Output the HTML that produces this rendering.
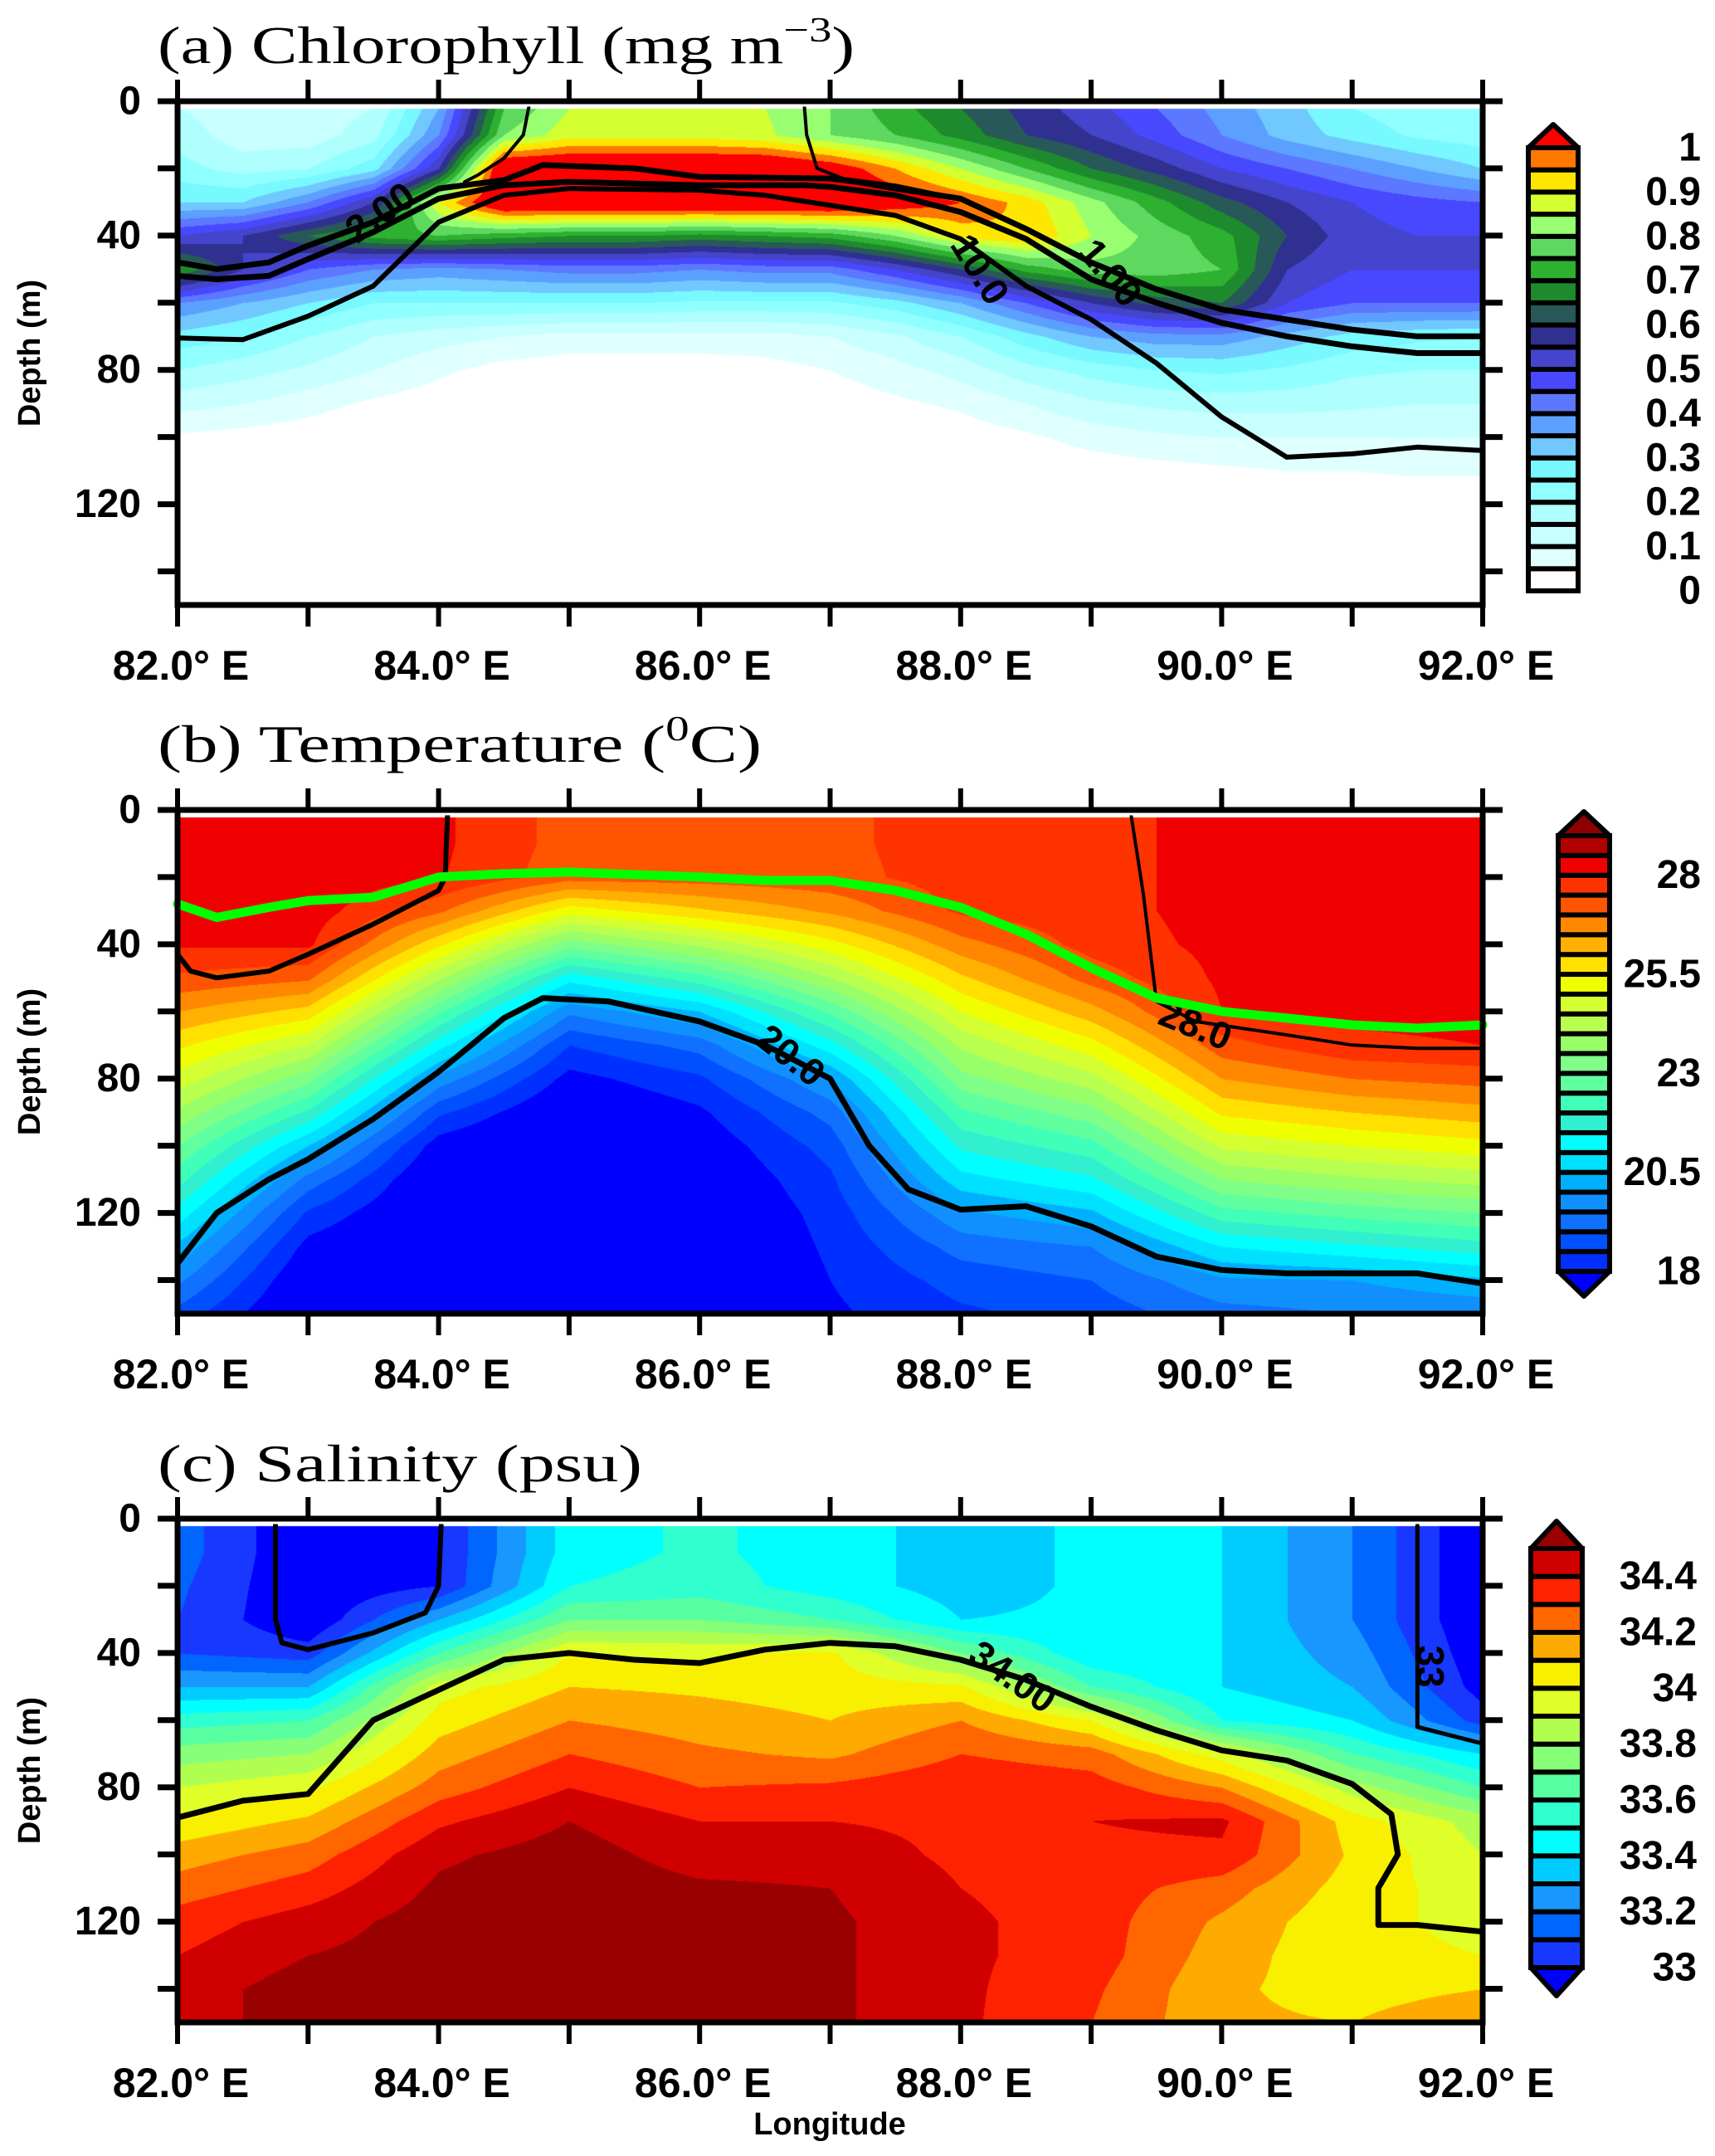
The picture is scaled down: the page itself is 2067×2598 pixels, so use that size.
<!DOCTYPE html>
<html><head><meta charset="utf-8">
<style>
html,body{margin:0;padding:0;background:#fff;}
#wrap{position:relative;width:2067px;height:2598px;overflow:hidden;background:#fff;}
canvas{position:absolute;}
svg{position:absolute;left:0;top:0;}
</style></head>
<body>
<div id="wrap">
<canvas id="cA" width="1573" height="607" style="left:214px;top:122px"></canvas>
<canvas id="cB" width="1573" height="607" style="left:214px;top:976px"></canvas>
<canvas id="cC" width="1573" height="607" style="left:214px;top:1830px"></canvas>
<svg id="ov" width="2067" height="2598" xmlns="http://www.w3.org/2000/svg">
<text x="190" y="76" textLength="840" lengthAdjust="spacingAndGlyphs" font-family="Liberation Serif, serif" font-size="64">(a) Chlorophyll (mg m<tspan dy="-26" font-size="42">−3</tspan><tspan dy="26">)</tspan></text>
<text x="190" y="918" textLength="728" lengthAdjust="spacingAndGlyphs" font-family="Liberation Serif, serif" font-size="64">(b) Temperature (<tspan dy="-26" font-size="42">0</tspan><tspan dy="26">C)</tspan></text>
<text x="190" y="1785" textLength="584" lengthAdjust="spacingAndGlyphs" font-family="Liberation Serif, serif" font-size="64">(c) Salinity (psu)</text>
<text x="1000" y="2572" text-anchor="middle" font-family="Liberation Sans, sans-serif" font-weight="bold" font-size="38">Longitude</text>
</svg>
</div>
<script>
// ---------- data ----------
const lonsA=[82,82.5,83,83.5,84,84.5,85,85.5,86,86.5,87,87.5,88,88.5,89,89.5,90,90.5,91,91.5,92];
const lonsB=[82,83,84,85,86,87,88,89,90,91,92];
const depths=[2,10,20,30,40,50,60,70,80,90,100,110,120,130,140,150];
const chlGrid=[
[.15,.12,.12,.15,.35,.75,.85,.87,.87,.85,.8,.72,.65,.58,.52,.45,.38,.32,.25,.22,.2],
[.18,.12,.12,.18,.4,.8,.88,.88,.88,.86,.8,.75,.68,.6,.55,.48,.4,.33,.28,.24,.22],
[.22,.18,.2,.28,.55,1.1,1.1,1.1,1.1,1.1,1.05,.95,.85,.75,.65,.58,.5,.45,.4,.35,.3],
[.3,.3,.4,.55,.9,1.1,1.1,1.1,1.1,1.1,1.1,1.05,1.0,.93,.82,.72,.62,.55,.5,.47,.45],
[.5,.55,.65,.72,.75,.72,.7,.7,.68,.7,.72,.8,.92,.95,.85,.78,.72,.6,.52,.5,.5],
[.7,.55,.45,.4,.38,.4,.42,.42,.4,.42,.42,.5,.6,.72,.78,.78,.75,.55,.5,.5,.5],
[.4,.35,.3,.25,.25,.25,.25,.25,.24,.24,.24,.28,.35,.45,.55,.62,.65,.5,.45,.45,.45],
[.28,.25,.2,.15,.12,.1,.08,.08,.08,.08,.1,.14,.2,.28,.35,.38,.38,.33,.28,.26,.25],
[.2,.17,.14,.1,.06,.03,.02,.02,.02,.03,.05,.08,.12,.18,.22,.25,.26,.24,.21,.2,.2],
[.12,.1,.07,.04,.02,0,0,0,0,0,.02,.04,.06,.1,.14,.16,.17,.17,.16,.15,.15],
[.04,.03,.02,0,0,0,0,0,0,0,0,0,.02,.04,.07,.09,.1,.1,.1,.1,.1],
[0,0,0,0,0,0,0,0,0,0,0,0,0,.01,.02,.03,.04,.05,.05,.06,.06],
[0,0,0,0,0,0,0,0,0,0,0,0,0,0,0,0,0,0,0,0,0],
[0,0,0,0,0,0,0,0,0,0,0,0,0,0,0,0,0,0,0,0,0],
[0,0,0,0,0,0,0,0,0,0,0,0,0,0,0,0,0,0,0,0,0],
[0,0,0,0,0,0,0,0,0,0,0,0,0,0,0,0,0,0,0,0,0]];
const tempGrid=[
[28.3,28.4,28.1,27.3,27.3,27.4,27.7,27.8,28.2,28.2,28.2],
[28.3,28.4,28.1,27.3,27.3,27.4,27.7,27.8,28.2,28.2,28.2],
[28.3,28.35,28.05,27.2,27.25,27.35,27.7,27.8,28.2,28.2,28.2],
[28.2,28.3,27.1,25.2,25.9,26.6,27.6,27.8,28.2,28.2,28.2],
[28.05,28.1,25.6,23.2,24.1,25.3,26.8,27.7,28.15,28.2,28.2],
[27.4,27.1,24.1,21.2,22.3,24.0,25.9,27.2,28.1,28.15,28.2],
[26.5,25.8,22.6,19.6,20.5,22.6,25.0,26.3,28.0,28.1,28.15],
[25.6,24.5,21.2,18.5,19.2,21.3,24.1,25.3,27.3,27.9,28.0],
[24.8,23.2,19.8,17.8,18.4,20.0,23.3,24.3,26.5,27.0,27.2],
[23.9,21.9,18.6,17.3,17.9,19.2,22.4,23.3,25.6,26.0,26.3],
[23.0,20.5,17.7,17.0,17.6,18.7,21.6,22.3,24.6,25.0,25.3],
[22.2,19.3,17.3,17.0,17.4,18.4,20.8,21.4,23.5,23.9,24.2],
[21.3,18.4,17.2,17.0,17.3,18.2,19.9,20.4,22.3,22.7,23.0],
[20.4,17.8,17.1,17.0,17.2,18.1,19.2,19.5,21.0,21.4,21.8],
[19.6,17.4,17.0,17.0,17.1,18.0,18.7,19.0,19.9,20.0,20.4],
[18.8,17.2,17.0,17.0,17.0,17.9,18.4,18.7,19.3,19.5,19.6]];
const salGrid=[
[33.15,32.9,33.0,33.45,33.52,33.45,33.35,33.42,33.4,33.2,32.9],
[33.15,32.9,33.0,33.45,33.52,33.45,33.35,33.42,33.4,33.2,32.9],
[33.12,32.9,33.0,33.5,33.55,33.45,33.35,33.42,33.4,33.2,32.9],
[33.1,32.9,33.3,33.7,33.7,33.6,33.4,33.42,33.4,33.2,32.9],
[33.1,33.05,33.6,34.0,33.98,34.02,33.7,33.42,33.4,33.25,32.92],
[33.3,33.3,33.95,34.1,34.08,34.05,34.02,33.6,33.4,33.3,32.95],
[33.55,33.6,34.05,34.2,34.15,34.1,34.2,34.0,33.5,33.4,33.05],
[33.75,33.8,34.15,34.3,34.22,34.18,34.3,34.25,33.95,33.6,33.4],
[33.9,33.98,34.25,34.4,34.3,34.32,34.38,34.35,34.2,33.85,33.6],
[34.02,34.12,34.38,34.5,34.4,34.4,34.38,34.4,34.42,34.05,33.85],
[34.15,34.25,34.48,34.55,34.45,34.45,34.38,34.38,34.38,34.08,33.9],
[34.25,34.35,34.52,34.57,34.52,34.5,34.4,34.35,34.25,34.05,33.95],
[34.35,34.45,34.55,34.58,34.55,34.52,34.42,34.35,34.18,34.02,33.98],
[34.4,34.5,34.55,34.58,34.56,34.52,34.42,34.35,34.15,34.02,34.0],
[34.45,34.55,34.55,34.58,34.56,34.52,34.42,34.32,34.12,34.05,34.1],
[34.45,34.55,34.55,34.58,34.56,34.52,34.42,34.3,34.12,34.1,34.2]];
const chlLine1=[[82,48],[82.3,50],[82.7,48],[83,43],[83.5,36],[84,26],[84.5,23.5],[84.8,19],[85.5,20],[86,22.5],[87,23],[87.2,24],[87.5,26],[88,29],[88.5,38],[89,48],[89.5,56],[90,62],[90.5,65],[91,68],[91.5,70],[92,70]];
const chlLine2=[[82,52],[82.3,53],[82.7,52],[83,47],[83.5,39],[84,29],[84.5,25],[85,24],[86,25],[86.8,25],[87,25.5],[87.5,28],[88,33],[88.5,41],[89,53],[89.5,60],[90,66],[90.5,70],[91,73],[91.5,75],[92,75]];
const chlLine10=[[82,70.5],[82.5,71],[83,64],[83.5,55],[84,36],[84.5,28],[85,26],[86,26.5],[86.5,28],[87,31],[87.5,34],[88,41],[88.5,55],[89,65],[89.5,78],[90,94],[90.5,106],[91,105],[91.5,103],[92,104]];
const chlThin1=[[84.7,0],[84.65,10],[84.5,17],[84.3,22],[84.2,24]];
const chlThin2=[[86.8,0],[86.82,10],[86.9,20],[87.1,23],[87.5,25],[88,29]];
const t20Line=[[82,135],[82.3,120],[82.7,110],[83,104],[83.5,92],[84,78],[84.5,62],[84.8,56],[85.3,57],[86,63],[86.5,70],[87,80],[87.3,100],[87.6,113],[88,119],[88.5,118],[89,124],[89.5,133],[90,137],[90.5,138],[91,138],[91.5,138],[92,141]];
const t28LineL=[[82,43],[82.1,48],[82.3,50],[82.7,48],[83,43],[83.5,34],[84,24],[84.05,20],[84.07,0]];
const t28LineR=[[89.3,0],[89.4,25],[89.5,57],[89.8,63],[90.5,67],[91,70],[91.5,71],[92,71]];
const mldLine=[[82,28],[82.3,32],[82.7,29],[83,27],[83.5,26],[84,20],[84.5,19],[85,18.5],[86,20],[86.5,21],[87,21],[87.5,24],[88,29],[88.5,37],[89,47],[89.5,56],[90,60],[90.5,62],[91,64],[91.5,65],[92,64]];
const s34Line=[[82,89],[82.5,84],[83,82],[83.5,60],[84,51],[84.5,42],[85,40],[85.5,42],[86,43],[86.5,39],[87,37],[87.5,38],[88,42],[88.5,48],[89,56],[89.5,63],[90,69],[90.5,72],[91,79],[91.3,88],[91.35,100],[91.2,110],[91.2,121],[91.5,121],[92,123]];
const s33LineL=[[82.75,2],[82.75,30],[82.8,37],[83,39],[83.5,34],[83.9,28],[84,20],[84.02,2]];
const s33LineR=[[91.5,2],[91.5,40],[91.5,62],[91.7,64],[92,67]];
const chlColors=['#ffffff','#e0ffff','#c8ffff','#b0ffff','#90ffff','#78f8ff','#70c8ff','#5ca0ff','#5c78ff','#4848ff','#4444cc','#303090','#285858','#1e8a2e','#2eb030','#5ed85e','#98ff70','#d4ff30','#ffe600','#ff7800'];
const chlLabels=['0','0.1','0.2','0.3','0.4','0.5','0.6','0.7','0.8','0.9','1'];
const tempColors=['#0030ff','#0050ff','#1070ff','#1090ff','#00b0ff','#00e0ff','#00ffff','#30f0d0','#40ffb8','#60ffa0','#80ff88','#98ff68','#b8ff50','#d4ff30','#f0ff00','#ffe000','#ffb000','#ff8800','#ff5500','#ff3300','#f00000','#b00000'];
const tempLabels=['18','20.5','23','25.5','28'];
const salColors=['#1838ff','#0066ff','#1898ff','#00ccff','#00ffff','#30ffd0','#58ffa0','#88ff78','#b0ff50','#e0ff28','#f8f000','#ffaa00','#ff6600','#ff2200','#d00000'];
const salLabels=['33','33.2','33.4','33.6','33.8','34','34.2','34.4'];
const xTickLabels=['82.0° E','84.0° E','86.0° E','88.0° E','90.0° E','92.0° E'];
const yTickLabels=['0','40','80','120'];

const X0=214,W=1573,H=607;
const TOPS=[122,976,1830];
function X(lon){return X0+(lon-82)/10*W;}
function Y(top,d){return top+d/150*H;}
const NS='http://www.w3.org/2000/svg';
const ov=document.getElementById('ov');
function mk(tag,attrs,parent){const e=document.createElementNS(NS,tag);for(const k in attrs)e.setAttribute(k,attrs[k]);(parent||ov).appendChild(e);return e;}
function hex(c){return [parseInt(c.substr(1,2),16),parseInt(c.substr(3,2),16),parseInt(c.substr(5,2),16)];}

function drawField(id,lons,grid,vmin,step,colors,under,over){
  const cv=document.getElementById(id),ctx=cv.getContext('2d');
  const img=ctx.createImageData(W,H),px=img.data;
  const cols=colors.map(hex),cu=hex(under),co=hex(over);
  for(let y=0;y<H;y++){
    const d=y/H*150;
    let j=0;while(j<depths.length-2&&d>depths[j+1])j++;
    let fy=(d-depths[j])/(depths[j+1]-depths[j]);if(fy<0)fy=0;if(fy>1)fy=1;
    for(let x=0;x<W;x++){
      const o=(y*W+x)*4;
      if(d<2){px[o]=px[o+1]=px[o+2]=255;px[o+3]=255;continue;}
      const lon=82+x/W*10;
      let i=0;while(i<lons.length-2&&lon>lons[i+1])i++;
      let fx=(lon-lons[i])/(lons[i+1]-lons[i]);if(fx<0)fx=0;if(fx>1)fx=1;
      const v=(grid[j][i]*(1-fx)+grid[j][i+1]*fx)*(1-fy)+(grid[j+1][i]*(1-fx)+grid[j+1][i+1]*fx)*fy;
      const k=Math.floor((v-vmin)/step+1e-9);
      const c=k<0?cu:(k>=cols.length?co:cols[k]);
      px[o]=c[0];px[o+1]=c[1];px[o+2]=c[2];px[o+3]=255;
    }
  }
  ctx.putImageData(img,0,0);
}
drawField('cA',lonsA,chlGrid,0,0.05,chlColors,'#ffffff','#ff0000');
drawField('cB',lonsB,tempGrid,18,0.5,tempColors,'#0000ff','#900000');
drawField('cC',lonsB,salGrid,33,0.1,salColors,'#0000ff','#990000');

function line(top,pts,w,col,name){
  const p=mk('polyline',{points:pts.map(q=>X(q[0]).toFixed(1)+','+Y(top,q[1]).toFixed(1)).join(' '),fill:'none',stroke:col,'stroke-width':w,'stroke-linejoin':'round','stroke-linecap':'round'});
  
  
}
function label(top,lon,d,rot,txt,name){
  const t=mk('text',{x:X(lon),y:Y(top,d),transform:'rotate('+rot+' '+X(lon)+' '+Y(top,d)+')','text-anchor':'middle','dominant-baseline':'central','font-family':'Liberation Sans, sans-serif','font-weight':'bold','font-size':46});
  t.textContent=txt;
  
  
}
line(TOPS[0],chlLine1,7,'#000','contour-upper');
line(TOPS[0],chlLine2,7,'#000','contour-1-00');
line(TOPS[0],chlLine10,6,'#000','contour-10-0');
line(TOPS[0],chlThin1,4,'#000','contour-thin-west');
line(TOPS[0],chlThin2,4,'#000','contour-thin-east');
label(TOPS[0],83.55,33,-35,'2.00','contour-label-2');
label(TOPS[0],88.15,50,58,'10.0','contour-label-10');
label(TOPS[0],89.15,51,50,'1.00','contour-label-1');
line(TOPS[1],t20Line,7,'#000','isotherm-20');
line(TOPS[1],t28LineL,6,'#000','isotherm-28-west');
line(TOPS[1],t28LineR,4,'#000','isotherm-28-east');
label(TOPS[1],86.7,73,38,'20.0','isotherm-label-20');
label(TOPS[1],89.8,64,22,'28.0','isotherm-label-28');
line(TOPS[1],mldLine,11,'#00ff00','mixed-layer-depth-line');
line(TOPS[2],s34Line,7,'#000','isohaline-34');
line(TOPS[2],s33LineL,6,'#000','isohaline-33-west');
line(TOPS[2],s33LineR,5,'#000','isohaline-33-east');
label(TOPS[2],88.4,47,35,'34.00','isohaline-label-34');
label(TOPS[2],91.6,44,90,'33','isohaline-label-33');

TOPS.forEach((top,pi)=>{
  const g=mk('g',{});
  
  
  mk('rect',{x:X0,y:top,width:W,height:H,fill:'none',stroke:'#000','stroke-width':7},g);
  mk('line',{x1:X0+4,y1:top+5,x2:X0+W-4,y2:top+5,stroke:'#fff','stroke-width':3},g);
  for(let lon=82;lon<=92;lon++){
    mk('line',{x1:X(lon),y1:top-26,x2:X(lon),y2:top,stroke:'#000','stroke-width':6},g);
    mk('line',{x1:X(lon),y1:top+H,x2:X(lon),y2:top+H+26,stroke:'#000','stroke-width':6},g);
  }
  for(let d=0;d<150;d+=20){
    mk('line',{x1:X0-24,y1:Y(top,d),x2:X0,y2:Y(top,d),stroke:'#000','stroke-width':7},g);
    mk('line',{x1:X0+W,y1:Y(top,d),x2:X0+W+24,y2:Y(top,d),stroke:'#000','stroke-width':7},g);
  }
  yTickLabels.forEach((s,k)=>{
    const t=mk('text',{x:170,y:Y(top,k*40),'text-anchor':'end','dominant-baseline':'central','font-family':'Liberation Sans, sans-serif','font-weight':'bold','font-size':48},g);
    t.textContent=s;
    
    
  });
  xTickLabels.forEach((s,k)=>{
    const t=mk('text',{x:X(82+k*2)+4,y:top+H+90,'text-anchor':'middle','font-family':'Liberation Sans, sans-serif','font-weight':'bold','font-size':50},g);
    t.textContent=s;
    
    
  });
  const yl=mk('text',{x:48,y:top+H/2,transform:'rotate(-90 48 '+(top+H/2)+')','text-anchor':'middle','font-family':'Liberation Sans, sans-serif','font-weight':'bold','font-size':38},g);
  yl.textContent='Depth (m)';
  
  
});

function colorbar(name,x0,x1,tip,rt,rb,btip,colors,under,over,labels,lstep,lx){
  const g=mk('g',{});
  
  
  const n=colors.length,h=(rb-rt)/n,cx=(x0+x1)/2;
  mk('polygon',{points:x0+','+rt+' '+cx+','+tip+' '+x1+','+rt,fill:over,stroke:'#000','stroke-width':6,'stroke-linejoin':'round'},g);
  if(btip) mk('polygon',{points:x0+','+rb+' '+cx+','+btip+' '+x1+','+rb,fill:under,stroke:'#000','stroke-width':6,'stroke-linejoin':'round'},g);
  for(let k=0;k<n;k++){
    mk('rect',{x:x0,y:rb-(k+1)*h,width:x1-x0,height:h,fill:colors[k],stroke:'#000','stroke-width':6},g);
  }
  labels.forEach((s,k)=>{
    const t=mk('text',{x:lx,y:rb-k*lstep*h,'text-anchor':'end','dominant-baseline':'central','font-family':'Liberation Sans, sans-serif','font-weight':'bold','font-size':48},g);
    t.textContent=s;
    
    
  });
}
colorbar('colorbar-chlorophyll',1842,1902,150,178,712,0,chlColors,'#fff','#ff0000',chlLabels,2,2050);
colorbar('colorbar-temperature',1878,1940,978,1007,1532,1562,tempColors,'#0000ff','#900000',tempLabels,5,2050);
colorbar('colorbar-salinity',1845,1907,1833,1866,2371,2405,salColors,'#0000ff','#990000',salLabels,2,2045);
</script>
</body></html>
